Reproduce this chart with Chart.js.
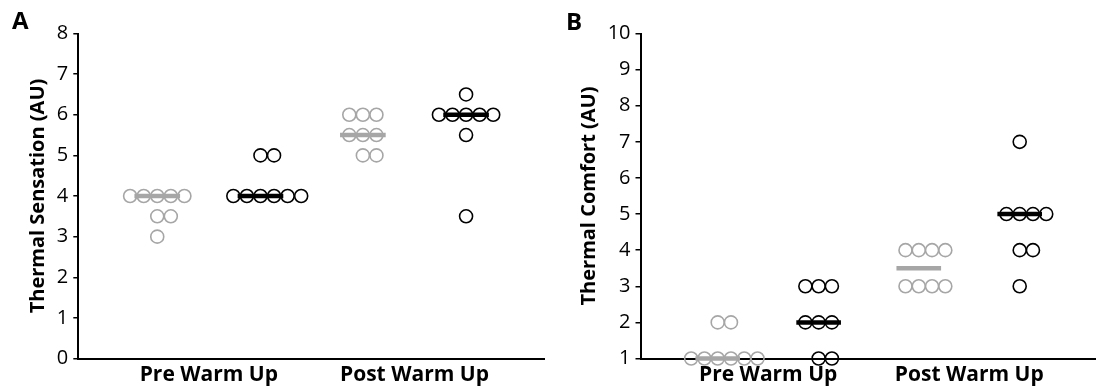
<!DOCTYPE html>
<html><head><meta charset="utf-8">
<script src="https://cdn.jsdelivr.net/npm/chart.js@4.4.0/dist/chart.umd.min.js"></script>
<style>
html,body{margin:0;padding:0;background:#fff;width:1104px;height:390px;overflow:hidden;}
.panel{position:absolute;top:0;height:390px;}
.lbl{position:absolute;font-family:"Open Sans";font-weight:700;font-size:24px;line-height:24px;color:#000;}
</style></head><body>
<div class="panel" style="left:0;width:560px"><canvas id="ca" width="560" height="390"></canvas></div>
<div class="panel" style="left:560px;width:544px"><canvas id="cb" width="544" height="390"></canvas></div>
<div class="lbl" style="left:12px;top:8px">A</div>
<div class="lbl" style="left:566px;top:9px">B</div>
<script>
// ---------- data ----------
const categories = ['Pre Warm Up', 'Post Warm Up'];

// Panel A: Thermal Sensation
const sensationTicks = [0, 1, 2, 3, 4, 5, 6, 7, 8];
const sensationPreGray   = [4, 4, 4, 4, 4, 3.5, 3.5, 3];
const sensationPreBlack  = [4, 4, 4, 4, 4, 4, 5, 5];
const sensationPostGray  = [6, 6, 6, 5.5, 5.5, 5.5, 5, 5];
const sensationPostBlack = [6.5, 6, 6, 6, 6, 6, 5.5, 3.5];
const sensationMedianGray  = [4, 5.5];
const sensationMedianBlack = [4, 6];

// Panel B: Thermal Comfort
const comfortTicks = [1, 2, 3, 4, 5, 6, 7, 8, 9, 10];
const comfortPreGray   = [1, 1, 1, 1, 1, 1, 2, 2];
const comfortPreBlack  = [3, 3, 3, 2, 2, 2, 1, 1];
const comfortPostGray  = [4, 4, 4, 4, 3, 3, 3, 3];
const comfortPostBlack = [7, 5, 5, 5, 5, 4, 4, 3];
const comfortMedianGray  = [1, 3.5];
const comfortMedianBlack = [2, 5];

// ---------- layout / style ----------
const GRAY = '#a6a6a6', BLACK = '#000000';
const GROUP_OFFSET = 0.251;   // gray group left of category, black right
const DOT_STEP = 0.066;       // horizontal spacing between stacked dots
const MEDIAN_HALF = 0.111;
const X_MIN = 0.365, X_MAX = 2.63;
const FONT = '"Open Sans", "Noto Sans", sans-serif';

function swarm(values, catIdx, side) {
  const counts = new Map();
  values.forEach(v => counts.set(v, (counts.get(v) || 0) + 1));
  const pts = [];
  counts.forEach((n, v) => {
    const start = -Math.floor((n - 1) / 2);
    for (let j = 0; j < n; j++) {
      pts.push({ x: catIdx + 1 + side * GROUP_OFFSET + (start + j) * DOT_STEP, y: v });
    }
  });
  return pts;
}

function dotSet(values, catIdx, side, color) {
  return {
    data: swarm(values, catIdx, side),
    showLine: false, pointStyle: 'circle', pointRadius: 6.5, pointHoverRadius: 6.5,
    borderWidth: 1.6, pointBorderColor: color, borderColor: color,
    pointBackgroundColor: 'rgba(0,0,0,0)', backgroundColor: 'rgba(0,0,0,0)',
    clip: false, order: 1
  };
}
function medianSets(medians, side, color) {
  return medians.map((m, i) => ({
    data: [{ x: i + 1 + side * GROUP_OFFSET - MEDIAN_HALF, y: m },
           { x: i + 1 + side * GROUP_OFFSET + MEDIAN_HALF, y: m }],
    showLine: true, pointRadius: 0, pointHoverRadius: 0, borderWidth: 4.5,
    borderColor: color, borderCapStyle: 'butt', clip: false, order: 0
  }));
}

function makeChart(id, cfg) {
  const datasets = [
    dotSet(cfg.preGray, 0, -1, GRAY), dotSet(cfg.preBlack, 0, 1, BLACK),
    dotSet(cfg.postGray, 1, -1, GRAY), dotSet(cfg.postBlack, 1, 1, BLACK),
    ...medianSets(cfg.medGray, -1, GRAY), ...medianSets(cfg.medBlack, 1, BLACK)
  ];
  return new Chart(document.getElementById(id), {
    type: 'scatter',
    data: { datasets },
    options: {
      responsive: false, animation: false, devicePixelRatio: 1,
      layout: { padding: { top: 33.5, right: cfg.padRight, bottom: 0, left: 0 } },
      plugins: { legend: { display: false }, tooltip: { enabled: false } },
      scales: {
        x: {
          type: 'linear', min: X_MIN, max: X_MAX,
          grid: { display: false, drawTicks: false, tickLength: 0 },
          border: { display: true, color: '#000', width: 2 },
          afterBuildTicks: a => { a.ticks = categories.map((c, i) => ({ value: i + 1 })); },
          ticks: { callback: v => categories[Math.round(v) - 1], color: '#000',
                   font: { family: FONT, size: 21, weight: 'bold' }, padding: 4, maxRotation: 0, autoSkip: false },
          afterFit: a => { a.height = 31.5; }
        },
        y: {
          type: 'linear', min: cfg.ticks[0], max: cfg.ticks[cfg.ticks.length - 1],
          afterBuildTicks: a => { a.ticks = cfg.ticks.map(v => ({ value: v })); },
          grid: { display: true, drawOnChartArea: false, drawTicks: true, tickLength: 5, color: '#000', lineWidth: 1.5 },
          border: { display: true, color: '#000', width: 2 },
          ticks: { color: '#000', font: { family: FONT, size: 20 }, padding: 5 },
          title: { display: true, text: cfg.title, color: '#000',
                   font: { family: FONT, size: 20, weight: 'bold' }, padding: { top: cfg.titlePad, bottom: 0 } },
          afterFit: a => { a.width = cfg.axisW; }
        }
      }
    }
  });
}

makeChart('ca', {
  preGray: sensationPreGray, preBlack: sensationPreBlack,
  postGray: sensationPostGray, postBlack: sensationPostBlack,
  medGray: sensationMedianGray, medBlack: sensationMedianBlack,
  ticks: sensationTicks, title: 'Thermal Sensation (AU)',
  axisW: 78.3, titlePad: 26, padRight: 16
});
makeChart('cb', {
  preGray: comfortPreGray, preBlack: comfortPreBlack,
  postGray: comfortPostGray, postBlack: comfortPostBlack,
  medGray: comfortMedianGray, medBlack: comfortMedianBlack,
  ticks: comfortTicks, title: 'Thermal Comfort (AU)',
  axisW: 80.5, titlePad: 17, padRight: 0
});
</script>
</body></html>
